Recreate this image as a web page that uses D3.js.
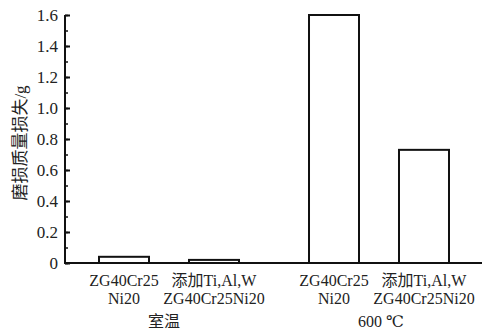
<!DOCTYPE html>
<html lang="zh">
<head>
<meta charset="UTF-8">
<script src="https://cdn.jsdelivr.net/npm/d3@7"></script>
<style>
	body { margin: 0; background: #fff; }
	text { font-family: "Liberation Serif", "Times New Roman", Times, "DejaVu Serif", "Noto Sans CJK SC", serif; fill: #222; }
</style>
</head>
<body>
<svg id="chart" width="487" height="330"></svg>
<script>
	// data
	const groups = ['室温', '600 ℃'];
	const groupShift = [-5, 2];
	const materials = ['base', 'added'];
	const materialLines = {
		base: ['ZG40Cr25', 'Ni20'],
		added: ['添加Ti,Al,W', 'ZG40Cr25Ni20']
	};
	const lossRoom = [0.04, 0.02];
	const loss600 = [1.6, 0.73];
	const yTicks = [0, 0.2, 0.4, 0.6, 0.8, 1.0, 1.2, 1.4, 1.6];

	const data = [];
	groups.forEach((g, i) => {
		const vals = i === 0 ? lossRoom : loss600;
		materials.forEach((m, j) => data.push({ group: g, mat: m, value: vals[j] }));
	});

	const svg = d3.select('#chart');
	const margin = { left: 65, top: 15, bottom: 263, right: 482 };

	const y = d3.scaleLinear().domain([0, 1.6]).range([margin.bottom, margin.top]);
	const x0 = d3.scaleBand().domain(groups).range([64, 484]);
	const x1 = d3.scaleBand().domain(materials).range([0, x0.bandwidth()])
		.paddingInner(4 / 9).paddingOuter(0.389);

	// bars
	svg.append('g').selectAll('rect')
		.data(data)
		.join('rect')
		.attr('x', d => x0(d.group) + x1(d.mat))
		.attr('y', d => y(d.value))
		.attr('width', x1.bandwidth())
		.attr('height', d => y(0) - y(d.value))
		.attr('fill', '#fff')
		.attr('stroke', '#111')
		.attr('stroke-width', 2);

	// y axis with minor ticks pointing inwards
	const yAxis = svg.append('g').attr('transform', `translate(${margin.left},0)`);
	yAxis.call(d3.axisRight(y).tickValues(d3.range(0, 1.61, 0.1)).tickSize(3).tickFormat(''));
	yAxis.call(g => g.selectAll('.tick line').attr('stroke', '#111').attr('stroke-width', 1.5));
	yAxis.select('.domain').remove();
	svg.append('g').attr('transform', `translate(${margin.left},0)`)
		.call(d3.axisRight(y).tickValues(yTicks).tickSize(5).tickFormat(''))
		.call(g => g.select('.domain').remove())
		.call(g => g.selectAll('.tick line').attr('stroke', '#111').attr('stroke-width', 2));
	svg.append('g').selectAll('text')
		.data(yTicks)
		.join('text')
		.attr('x', 58)
		.attr('y', d => y(d))
		.attr('dy', '0.35em')
		.attr('text-anchor', 'end')
		.attr('font-size', 17)
		.text(d => d === 0 ? '0' : d3.format('.1f')(d));

	// axis lines
	svg.append('path')
		.attr('d', `M${margin.left},${margin.top}V${margin.bottom}H${margin.right}`)
		.attr('fill', 'none')
		.attr('stroke', '#111')
		.attr('stroke-width', 2);

	// category labels
	const lab = svg.append('g');
	data.forEach(d => {
		const cx = x0(d.group) + x1(d.mat) + x1.bandwidth() / 2;
		materialLines[d.mat].forEach((t, k) => {
			lab.append('text')
				.attr('x', cx)
				.attr('y', 286 + k * 18)
				.attr('text-anchor', 'middle')
				.attr('font-size', 16)
				.text(t);
		});
	});
	lab.selectAll('.grp')
		.data(groups)
		.join('text')
		.attr('x', (d, i) => x0(d) + x0.bandwidth() / 2 + groupShift[i])
		.attr('y', 327)
		.attr('text-anchor', 'middle')
		.attr('font-size', 16)
		.text(d => d);

	// y title
	svg.append('text')
		.attr('transform', 'translate(26,143) rotate(-90)')
		.attr('text-anchor', 'middle')
		.attr('font-size', 17)
		.text('磨损质量损失/g');
</script>
</body>
</html>
